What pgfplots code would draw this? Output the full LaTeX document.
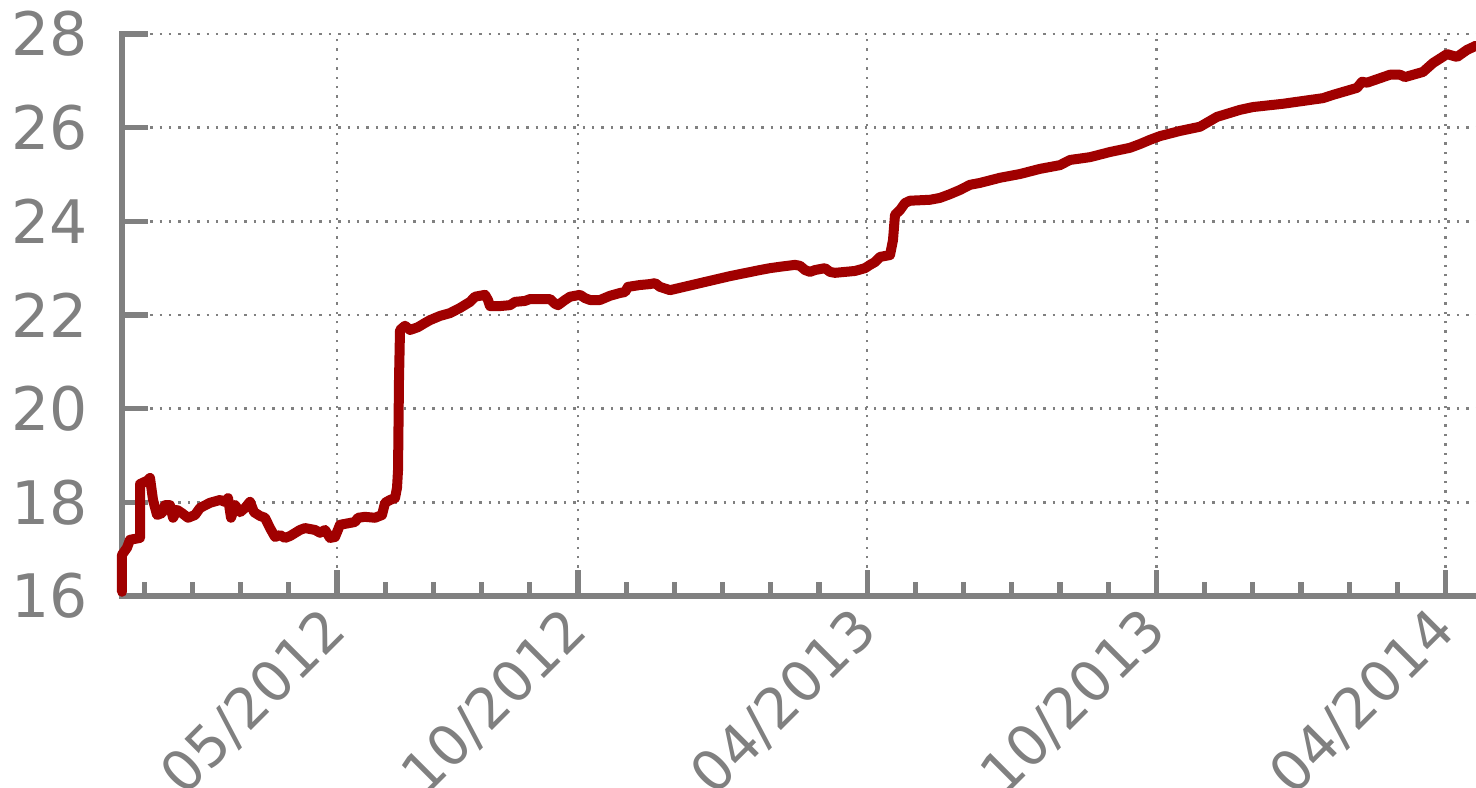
\documentclass[border=0pt]{standalone}
\usepackage{pgfplots}
\pgfplotsset{compat=1.18}
\usepackage{fontspec}
\setmainfont{DejaVu Sans}
\definecolor{axgray}{RGB}{128,128,128}
\definecolor{linered}{RGB}{160,0,0}
\begin{document}
\begin{tikzpicture}
\useasboundingbox (-30.5pt,-48pt) rectangle (338.5pt,149pt);
\begin{axis}[
  at={(0,0)}, anchor=south west,
  scale only axis, width=338.5pt, height=140.5pt,
  xmin=-4.461, xmax=23.631, ymin=16, ymax=28,
  axis x line*=bottom, axis y line*=left,
  axis line style={axgray, line width=1.3pt, line cap=rect},
  clip=false,
  xtick={0,5,11,17,23},
  xticklabels={05/2012,10/2012,04/2013,10/2013,04/2014},
  minor xtick={-4,...,23},
  ytick={16,18,...,28},
  tick align=inside,
  major tick length=6.5pt, minor tick length=3.5pt,
  every tick/.style={axgray, line width=1.3pt},
  minor tick style={axgray, line width=1.3pt},
  xmajorgrids, ymajorgrids,
  major grid style={axgray, line width=0.6pt, dash pattern=on 0.6pt off 1.75pt},
  ticklabel style={text=axgray},
  yticklabel style={font=\fontsize{15}{18}\selectfont, xshift=-5pt},
  /pgf/number format/assume math mode=true,
  xticklabel style={font=\fontsize{14}{17}\selectfont, rotate=45, anchor=north east, xshift=-0.9pt, yshift=5.2pt},
]
\addplot[linered, line width=2.5pt, line join=round, line cap=round] coordinates {
(-4.461,16.09) (-4.461,16.88) (-4.357,17.03) (-4.295,17.20) (-4.087,17.24)
(-4.087,18.39) (-3.942,18.46) (-3.880,18.52) (-3.817,18.05) (-3.734,17.73)
(-3.631,17.77) (-3.568,17.94) (-3.465,17.94) (-3.402,17.67) (-3.320,17.84)
(-3.216,17.77) (-3.091,17.67) (-2.946,17.73) (-2.842,17.88) (-2.635,17.99)
(-2.427,18.05) (-2.324,18.01) (-2.261,18.09) (-2.199,17.67) (-2.116,17.94)
(-2.012,17.79) (-1.909,17.88) (-1.805,18.01) (-1.722,17.79) (-1.598,17.71)
(-1.494,17.67) (-1.390,17.45) (-1.286,17.26) (-1.183,17.30) (-1.079,17.24)
(-0.975,17.28) (-0.768,17.41) (-0.664,17.45) (-0.456,17.41) (-0.353,17.35)
(-0.249,17.41) (-0.145,17.24) (-0.041,17.26) (0.062,17.52) (0.166,17.54)
(0.373,17.58) (0.436,17.67) (0.581,17.69) (0.788,17.67) (0.934,17.73)
(0.996,17.99) (1.100,18.05) (1.203,18.09) (1.245,18.31) (1.266,18.69)
(1.286,20.61) (1.307,21.68) (1.411,21.77) (1.515,21.68) (1.680,21.74)
(1.826,21.83) (1.929,21.89) (2.137,21.98) (2.344,22.04) (2.552,22.15)
(2.759,22.28) (2.863,22.39) (3.071,22.43) (3.133,22.32) (3.174,22.19)
(3.382,22.19) (3.589,22.21) (3.693,22.28) (3.900,22.30) (4.004,22.34)
(4.212,22.34) (4.419,22.34) (4.523,22.24) (4.585,22.21) (4.730,22.32)
(4.834,22.39) (5.041,22.43) (5.145,22.36) (5.249,22.32) (5.456,22.32)
(5.664,22.41) (5.871,22.47) (5.975,22.49) (6.037,22.60) (6.286,22.64)
(6.494,22.66) (6.598,22.68) (6.701,22.60) (6.909,22.53) (7.116,22.58)
(7.531,22.68) (8.154,22.83) (8.776,22.96) (8.983,23.00) (9.191,23.03)
(9.502,23.07) (9.606,23.05) (9.710,22.96) (9.813,22.92) (9.917,22.96)
(10.124,23.00) (10.228,22.92) (10.332,22.90) (10.539,22.92) (10.747,22.94)
(10.954,23.00) (11.058,23.07) (11.162,23.13) (11.266,23.24) (11.473,23.28)
(11.535,23.60) (11.577,24.14) (11.680,24.24) (11.784,24.39) (11.888,24.44)
(12.303,24.46) (12.510,24.50) (12.718,24.58) (12.925,24.67) (13.133,24.78)
(13.340,24.82) (13.755,24.93) (14.170,25.01) (14.585,25.12) (15.000,25.20)
(15.207,25.31) (15.622,25.37) (16.037,25.48) (16.452,25.57) (16.660,25.65)
(16.867,25.74) (17.075,25.82) (17.490,25.93) (17.905,26.02) (18.257,26.23)
(18.734,26.38) (19.004,26.44) (19.627,26.51) (20.456,26.63) (20.664,26.70)
(21.162,26.85) (21.266,26.98) (21.369,26.96) (21.846,27.13) (22.054,27.13)
(22.158,27.08) (22.531,27.19) (22.739,27.38) (23.029,27.57) (23.237,27.51)
(23.444,27.66) (23.631,27.75)
};
\end{axis}
\end{tikzpicture}
\end{document}
